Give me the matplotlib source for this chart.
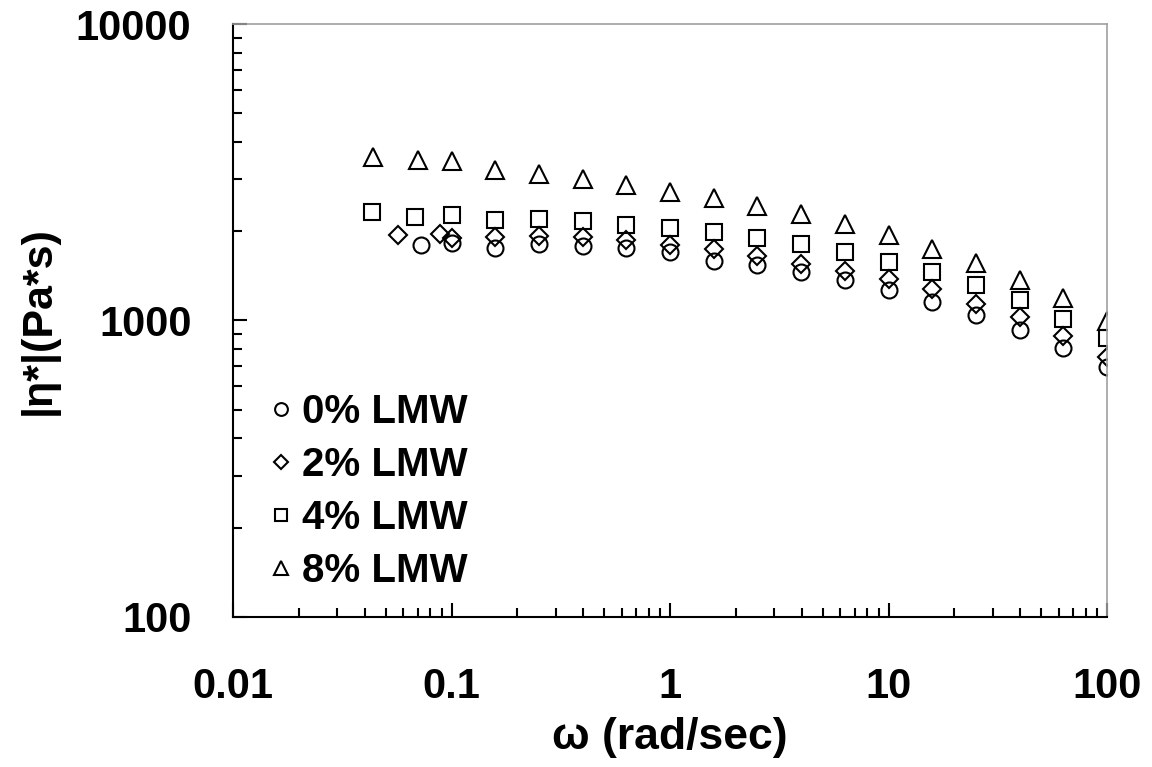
import numpy as np
import matplotlib
matplotlib.use("Agg")
import matplotlib.pyplot as plt
from matplotlib.ticker import LogLocator, NullFormatter, FixedLocator

plt.rcParams["font.family"] = ["Liberation Sans", "DejaVu Sans"]
plt.rcParams["font.weight"] = "bold"

# frequency sweep (rad/sec), shared high-frequency part
freq = [0.1, 0.158, 0.251, 0.398, 0.631, 1.0, 1.585, 2.51, 3.98, 6.31,
        10.0, 15.85, 25.1, 39.8, 63.1, 100.0]

x_0 = [0.0722] + freq
eta_0 = [1797, 1825, 1756, 1811, 1783, 1756, 1702, 1591, 1539, 1457, 1369,
         1268, 1157, 1046, 929, 808, 697]

x_2 = [0.0571, 0.0885] + freq
eta_2 = [1943, 1958, 1897, 1912, 1928, 1912, 1868, 1797, 1742, 1650, 1554,
         1472, 1380, 1277, 1137, 1027, 887, 755]

x_4 = [0.0432, 0.068] + freq
eta_4 = [2322, 2234, 2269, 2188, 2199, 2165, 2099, 2051, 1988, 1897, 1811,
         1702, 1575, 1457, 1318, 1173, 1014, 873]

x_8 = [0.0438, 0.0705] + freq
eta_8 = [3568, 3478, 3452, 3218, 3120, 3001, 2864, 2720, 2596, 2433, 2292,
         2116, 1943, 1747, 1566, 1369, 1191, 996]

labels = ["0% LMW", "2% LMW", "4% LMW", "8% LMW"]

fig = plt.figure(figsize=(11.52, 7.67), dpi=100)
ax = fig.add_axes([0.2023, 0.1956, 0.7587, 0.7731])

style = dict(linestyle="none", mfc="none", mec="black", mew=1.5)
ax.plot(x_0, eta_0, marker="o", ms=11.5, label=labels[0], **style)
ax.plot(x_2, eta_2, marker="D", ms=9.5, label=labels[1], **style)
ax.plot(x_4, eta_4, marker="s", ms=11.5, label=labels[2], **style)
ax.plot(x_8, eta_8, marker="^", ms=12.5, label=labels[3], **style)

ax.set_xscale("log")
ax.set_yscale("log")
ax.set_xlim(0.01, 100)
ax.set_ylim(100, 10000)

ax.xaxis.set_major_locator(FixedLocator([0.01, 0.1, 1, 10, 100]))
ax.yaxis.set_major_locator(FixedLocator([100, 1000, 10000]))
ax.set_xticklabels(["0.01", "0.1", "1", "10", "100"])
ax.set_yticklabels(["100", "1000", "10000"])
ax.xaxis.set_minor_locator(LogLocator(base=10, subs=np.arange(2, 10)))
ax.yaxis.set_minor_locator(LogLocator(base=10, subs=np.arange(2, 10)))
ax.xaxis.set_minor_formatter(NullFormatter())
ax.yaxis.set_minor_formatter(NullFormatter())

ax.tick_params(which="both", direction="in", top=False, right=False,
               color="black", width=1.5)
ax.tick_params(which="major", length=10, labelsize=30)
ax.tick_params(which="minor", length=6.5)
ax.tick_params(axis="x", which="major", pad=36)
ax.tick_params(axis="y", which="major", pad=30)

for side in ["left", "bottom"]:
    ax.spines[side].set_color("black")
    ax.spines[side].set_linewidth(1.5)
for side in ["top", "right"]:
    ax.spines[side].set_color("#a0a0a0")
    ax.spines[side].set_linewidth(1.2)

ax.set_xlabel("ω (rad/sec)", fontsize=32, fontweight="bold", labelpad=7)
ax.set_ylabel("|η*|(Pa*s)", fontsize=31, fontweight="bold", labelpad=12)

ax.legend(loc="upper left", bbox_to_anchor=(0.0223, 0.405), frameon=False,
          prop=dict(size=29, weight="bold"), markerscale=0.8,
          handlelength=0.6, handletextpad=0.23, labelspacing=0.37,
          borderaxespad=0)

fig.savefig("out.png", dpi=100)
